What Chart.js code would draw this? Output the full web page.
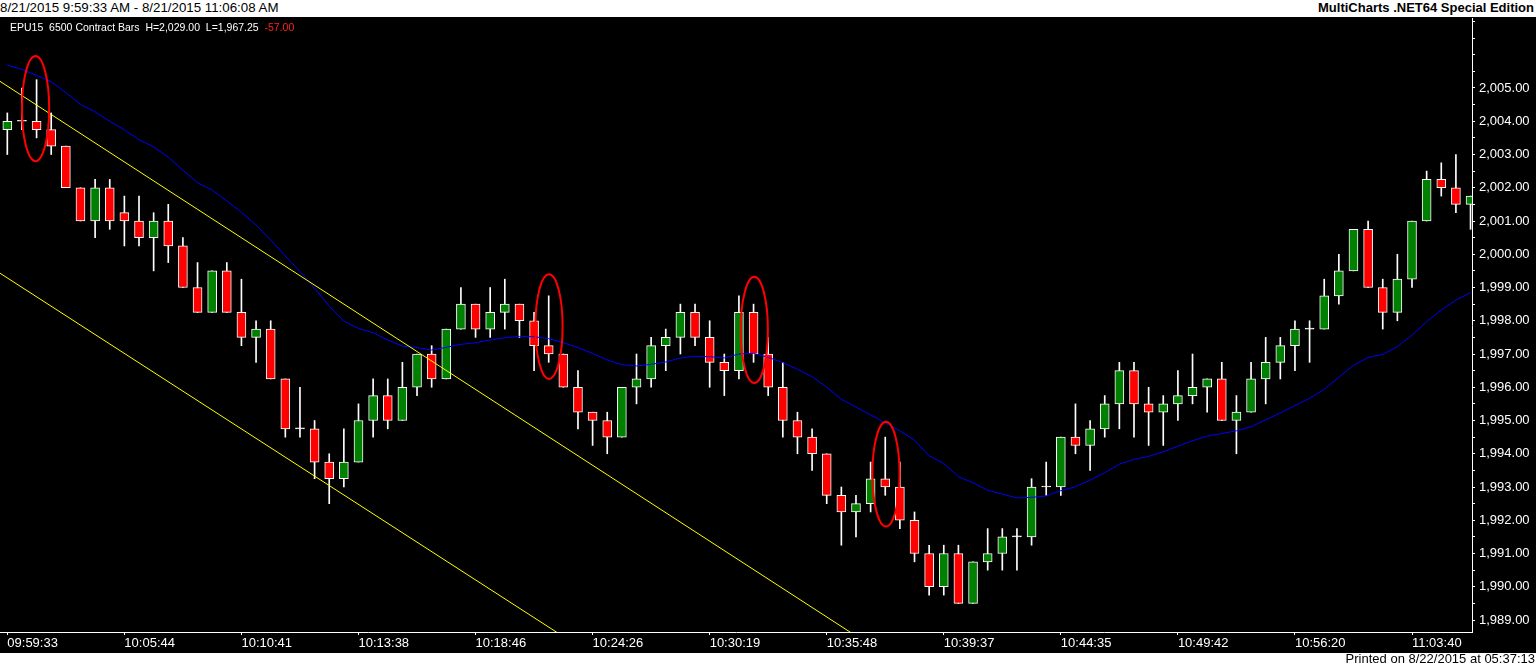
<!DOCTYPE html>
<html><head><meta charset="utf-8">
<script src="https://cdn.jsdelivr.net/npm/chart.js@4.4.0/dist/chart.umd.min.js"></script>
<style>
html,body{margin:0;padding:0;background:#fff;width:1536px;height:668px;overflow:hidden;font-family:"Liberation Sans",Arial,sans-serif;}
#hl{position:absolute;left:0;top:-1px;font-size:13.3px;line-height:17px;color:#000;white-space:pre;}
#hr{position:absolute;right:2px;top:-1px;font-size:13px;line-height:17px;font-weight:bold;color:#000;white-space:pre;}
#plot{position:absolute;left:0;top:17px;width:1536px;height:636px;background:#000;}
#sub{position:absolute;left:10px;top:21px;font-size:10.5px;line-height:12px;color:#fff;white-space:pre;}
#sub span{color:#ff2020;}
#ftr{position:absolute;right:1px;top:651px;font-size:13px;line-height:15px;color:#000;white-space:pre;}
canvas{position:absolute;left:0;top:0;}
</style></head>
<body>
<div id="hl">8/21/2015 9:59:33 AM - 8/21/2015 11:06:08 AM</div>
<div id="hr">MultiCharts .NET64 Special Edition</div>
<div id="plot"><canvas id="c" width="1536" height="636"></canvas></div>
<div id="sub">EPU15  6500 Contract Bars  H=2,029.00  L=1,967.25  <span>-57.00</span></div>
<div id="ftr">Printed on 8/22/2015 at 05:37:13</div>
<script>
// ---- data ----
const timeLabels = ['09:59:33','10:05:44','10:10:41','10:13:38','10:18:46','10:24:26','10:30:19','10:35:48','10:39:37','10:44:35','10:49:42','10:56:20','11:03:40'];
const timeTickIdx = [0,8,16,24,32,40,48,56,64,72,80,88,96];

const opens = [
2003.75,2004.0,2004.0,2003.75,2003.25,2002.0,2001.0,2002.0,2001.25,2001.0,
2000.5,2001.0,2000.25,1999.0,1998.25,1999.5,1998.25,1997.5,1997.75,1996.25,
1994.75,1994.75,1993.75,1993.25,1993.75,1995.0,1995.75,1995.0,1996.0,1997.0,
1996.25,1997.75,1998.5,1997.75,1998.25,1998.5,1998.0,1997.25,1997.0,1996.0,
1995.25,1995.0,1994.5,1996.0,1996.25,1997.25,1997.5,1998.25,1997.5,1996.75,
1996.5,1998.25,1997.0,1996.0,1995.0,1994.5,1994.0,1992.75,1992.25,1992.5,
1993.25,1993.0,1992.0,1991.0,1990.0,1991.0,1989.5,1990.75,1991.0,1991.5,
1991.5,1993.0,1993.0,1994.5,1994.25,1994.75,1995.5,1996.5,1995.5,1995.25,
1995.5,1995.75,1996.0,1996.25,1995.0,1995.25,1996.25,1996.75,1997.25,1997.75,
1997.75,1998.75,1999.5,2000.75,1999.0,1998.25,1999.25,2001.0,2002.25,2002.0,
2001.5];
const highs = [
2004.25,2005.0,2005.25,2004.25,2003.25,2002.0,2002.25,2002.25,2001.75,2001.75,
2001.25,2001.5,2000.5,1999.75,1999.5,1999.75,1999.25,1998.0,1998.0,1996.25,
1996.0,1995.0,1994.0,1994.75,1995.5,1996.25,1996.25,1996.75,1997.0,1997.25,
1997.75,1999.0,1998.5,1999.0,1999.25,1998.5,1998.25,1998.75,1997.0,1996.5,
1995.25,1995.25,1996.0,1997.0,1997.5,1997.75,1998.5,1998.5,1998.0,1997.0,
1998.75,1998.5,1997.5,1996.75,1995.25,1994.75,1994.0,1993.0,1992.75,1993.75,
1994.5,1993.75,1992.25,1991.25,1991.25,1991.25,1990.75,1991.75,1991.75,1991.75,
1993.25,1993.75,1994.5,1995.5,1995.0,1995.75,1996.75,1996.75,1996.0,1995.75,
1996.5,1997.0,1996.25,1996.75,1995.75,1996.75,1997.5,1997.5,1998.0,1998.0,
1999.25,2000.0,2000.75,2001.0,1999.25,2000.0,2001.0,2002.5,2002.75,2003.0,
2001.75];
const lows = [
2003.0,2003.75,2003.5,2003.0,2002.0,2001.0,2000.5,2000.75,2000.25,2000.25,
1999.5,1999.75,1999.0,1998.25,1998.25,1998.25,1997.25,1996.75,1996.25,1994.5,
1994.5,1993.25,1992.5,1993.0,1993.75,1994.5,1994.75,1995.0,1995.75,1996.0,
1996.25,1997.75,1997.5,1997.5,1997.75,1997.5,1996.5,1996.75,1996.0,1994.75,
1994.25,1994.0,1994.5,1995.5,1996.0,1996.5,1997.0,1997.25,1996.0,1995.75,
1996.25,1996.75,1995.75,1994.5,1994.0,1993.5,1992.5,1991.25,1991.5,1992.25,
1992.75,1991.75,1990.75,1989.75,1989.75,1989.5,1989.5,1990.5,1990.5,1990.5,
1991.25,1992.75,1992.75,1994.0,1993.5,1994.5,1994.75,1994.5,1994.25,1994.25,
1995.0,1995.5,1995.25,1995.0,1994.0,1995.25,1995.5,1996.25,1996.5,1996.75,
1997.75,1998.5,1999.5,1999.0,1997.75,1998.0,1999.0,2001.0,2001.75,2001.25,
2000.75];
const closes = [
2004.0,2004.0,2003.75,2003.25,2002.0,2001.0,2002.0,2001.0,2001.0,2000.5,
2001.0,2000.25,1999.0,1998.25,1999.5,1998.25,1997.5,1997.75,1996.25,1994.75,
1994.75,1993.75,1993.25,1993.75,1995.0,1995.75,1995.0,1996.0,1997.0,1996.25,
1997.75,1998.5,1997.75,1998.25,1998.5,1998.0,1997.25,1997.0,1996.0,1995.25,
1995.0,1994.5,1996.0,1996.25,1997.25,1997.5,1998.25,1997.5,1996.75,1996.5,
1998.25,1997.0,1996.0,1995.0,1994.5,1994.0,1992.75,1992.25,1992.5,1993.25,
1993.0,1992.0,1991.0,1990.0,1991.0,1989.5,1990.75,1991.0,1991.5,1991.5,
1993.0,1993.0,1994.5,1994.25,1994.75,1995.5,1996.5,1995.5,1995.25,1995.5,
1995.75,1996.0,1996.25,1995.0,1995.25,1996.25,1996.75,1997.25,1997.75,1997.75,
1998.75,1999.5,2000.75,1999.0,1998.25,1999.25,2001.0,2002.25,2002.0,2001.5,
2001.75];
const movingAvg = [
2005.69,2005.56,2005.38,2005.19,2004.86,2004.51,2004.28,2004.00,2003.74,2003.44,
2003.23,2002.92,2002.53,2002.15,2001.93,2001.61,2001.26,2000.88,2000.43,1999.95,
1999.48,1998.98,1998.44,1997.99,1997.77,1997.64,1997.42,1997.24,1997.19,1997.12,
1997.20,1997.29,1997.34,1997.42,1997.49,1997.53,1997.52,1997.46,1997.34,1997.19,
1997.02,1996.82,1996.68,1996.64,1996.69,1996.76,1996.88,1996.93,1996.92,1996.88,
1997.00,1997.02,1996.90,1996.74,1996.54,1996.32,1996.00,1995.64,1995.40,1995.17,
1994.93,1994.69,1994.41,1993.94,1993.71,1993.31,1993.13,1992.90,1992.79,1992.67,
1992.69,1992.73,1992.89,1993.01,1993.21,1993.43,1993.69,1993.83,1993.92,1994.06,
1994.23,1994.39,1994.53,1994.61,1994.69,1994.81,1995.02,1995.23,1995.45,1995.67,
1995.94,1996.30,1996.66,1996.90,1996.99,1997.22,1997.57,1997.97,1998.32,1998.62,
1998.85];
const channelUpper = [[-0.5, 2005.20], [100.1, 1976.52]];
const channelLower = [[-0.5, 1999.43], [100.1, 1970.88]];
// circled bars: [bar index, low price, high price]
const circled = [[1.93, 2002.80, 2005.96], [37.02, 1996.25, 1999.40], [51.05, 1996.13, 1999.32], [60.05, 1991.81, 1994.96]];
const circleHalfBars = 0.93;
const priceMin = 1988.64, priceMax = 2007.105, priceStep = 0.5, priceLabelMax = 2005;
const barMin = -0.5, barMax = 100.1;

// ---- chart ----
const idx = opens.map((_, i) => i);
const bodyColor = i => closes[i] > opens[i] ? '#008000' : (closes[i] < opens[i] ? '#ff0000' : '#ffffff');
const fmt = v => v.toLocaleString('en-US', {minimumFractionDigits: 2, maximumFractionDigits: 2});

const circlePlugin = {
  id: 'circled',
  afterDatasetsDraw(chart) {
    const {ctx, scales: {x, y}} = chart;
    ctx.save();
    ctx.strokeStyle = '#ff0000';
    ctx.lineWidth = 2;
    circled.forEach(([ci, lo, hi]) => {
      const cx = x.getPixelForValue(ci);
      const rx = Math.abs(x.getPixelForValue(ci + circleHalfBars) - cx);
      const yt = y.getPixelForValue(hi), yb = y.getPixelForValue(lo);
      ctx.beginPath();
      ctx.ellipse(cx, (yt + yb) / 2, rx, (yb - yt) / 2, 0, 0, Math.PI * 2);
      ctx.stroke();
    });
    ctx.restore();
  }
};

new Chart(document.getElementById('c'), {
  type: 'bar',
  data: {
    datasets: [
      { type: 'line', label: 'upper', data: channelUpper.map(p => ({x: p[0], y: p[1]})),
        borderColor: '#ffff00', borderWidth: 1, pointRadius: 0, order: 1 },
      { type: 'line', label: 'lower', data: channelLower.map(p => ({x: p[0], y: p[1]})),
        borderColor: '#ffff00', borderWidth: 1, pointRadius: 0, order: 1 },
      { type: 'line', label: 'avg', data: idx.map(i => ({x: i, y: movingAvg[i]})),
        borderColor: '#0000ff', borderWidth: 1, pointRadius: 0, tension: 0, order: 2 },
      { type: 'bar', label: 'body', data: idx.map(i => ({x: i, y: [opens[i], closes[i]]})),
        backgroundColor: c => bodyColor(c.dataIndex), borderColor: '#ffffff', borderWidth: 1,
        borderSkipped: false, barThickness: 9, minBarLength: 1, grouped: false, order: 3 },
      { type: 'bar', label: 'wick', data: idx.map(i => ({x: i, y: [lows[i], highs[i]]})),
        backgroundColor: '#ffffff', borderWidth: 0, barThickness: 1, grouped: false, order: 4 }
    ]
  },
  options: {
    responsive: false, animation: false, devicePixelRatio: 1,
    layout: {padding: {top: 1, left: 0, right: 0, bottom: 0}},
    plugins: {legend: {display: false}, tooltip: {enabled: false}},
    scales: {
      x: {
        type: 'linear', position: 'bottom', min: barMin, max: barMax, offset: false,
        afterFit: s => { s.height = 21; s.paddingLeft = 0; s.paddingRight = 0; },
        afterBuildTicks: s => { s.ticks = timeTickIdx.map(v => ({value: v})); },
        grid: {display: true, drawOnChartArea: false, drawTicks: true, tickLength: 3, color: '#ffffff', offset: false},
        border: {display: true, color: '#ffffff', width: 1},
        ticks: {
          autoSkip: false, maxRotation: 0, align: 'start', padding: 1, color: '#ffffff',
          font: {family: '"Liberation Sans", Arial, sans-serif', size: 13},
          callback: v => { const k = timeTickIdx.indexOf(v); return k >= 0 ? timeLabels[k] : ''; }
        }
      },
      y: {
        type: 'linear', position: 'right', min: priceMin, max: priceMax, beginAtZero: false,
        afterFit: s => { s.width = 64; s.paddingTop = 0; s.paddingBottom = 0; },
        afterBuildTicks: s => {
          const t = [];
          for (let v = Math.ceil(priceMin / priceStep) * priceStep; v <= priceMax + 1e-9; v += priceStep) t.push({value: Math.round(v * 100) / 100});
          s.ticks = t;
        },
        grid: {display: true, drawOnChartArea: false, drawTicks: true, tickLength: 3, color: '#ffffff'},
        border: {display: true, color: '#ffffff', width: 1},
        ticks: {
          autoSkip: false, padding: 4, color: '#ffffff',
          font: {family: '"Liberation Sans", Arial, sans-serif', size: 13},
          callback: v => (Math.abs(v - Math.round(v)) < 1e-6 && v <= priceLabelMax) ? fmt(v) : ''
        }
      }
    }
  },
  plugins: [circlePlugin]
});
</script>
</body></html>
